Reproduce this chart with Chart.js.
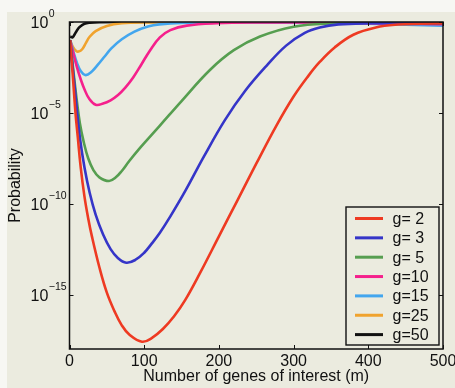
<!DOCTYPE html>
<html><head><meta charset="utf-8">
<script src="https://cdn.jsdelivr.net/npm/chart.js@4"></script>
<style>html,body{margin:0;padding:0;background:#f7f7f3;} #c{display:block;}</style>
</head><body>
<canvas id="c" width="455" height="388" style="width:455px;height:388px"></canvas>
<script>
// ---- data (x = m, values = log10 of probability) ----
const seriesLabels = ['g= 2','g= 3','g= 5','g=10','g=15','g=25','g=50'];
const seriesColors = ['#ee3a22','#3535c8','#569e50','#f5208c','#43a6ee','#f0a32e','#111111'];
const xTickValues = [0,100,200,300,400,500];
const yTickExponents = [0,-5,-10,-15];

const m_g2   = [1,3,5,8,11,15,20,25,30,40,50,60,70,80,97,110,125,140,155,175,200,225,250,277,300,320,335,355,380,410,440,470,500];
const logP_g2= [-1.0,-2.2,-3.3,-5.0,-6.3,-8.0,-9.6,-10.8,-11.8,-13.5,-14.9,-15.9,-16.7,-17.2,-17.6,-17.4,-16.9,-16.2,-15.3,-13.8,-11.8,-9.8,-7.8,-5.7,-4.1,-2.95,-2.2,-1.4,-0.7,-0.3,-0.14,-0.1,-0.08];

const m_g3   = [1,4,7,10,14,20,27,35,45,55,65,76,88,100,110,121,135,155,180,208,235,264,290,315,335,360,400,450,500];
const logP_g3= [-1.0,-2.4,-3.6,-4.9,-6.4,-8.0,-9.4,-10.6,-11.7,-12.5,-13.0,-13.25,-13.1,-12.7,-12.2,-11.6,-10.7,-9.3,-7.4,-5.4,-3.8,-2.4,-1.3,-0.6,-0.3,-0.13,-0.07,-0.07,-0.1];

const m_g5   = [1,3,6,10,14,19,25,32,40,53,62,70,80,95,121,150,188,220,255,300,350,420,500];
const logP_g5= [-1.0,-1.8,-3.0,-4.4,-5.6,-6.6,-7.5,-8.15,-8.55,-8.75,-8.55,-8.2,-7.65,-6.9,-5.7,-4.35,-2.64,-1.55,-0.8,-0.26,-0.08,-0.04,-0.06];

const m_g10   = [1,5,10,15,20,26,35,45,55,65,75,85,96,108,121,135,157,197,250,350,500];
const logP_g10= [-1.05,-1.7,-2.5,-3.15,-3.7,-4.2,-4.55,-4.49,-4.31,-4.02,-3.6,-3.07,-2.35,-1.55,-0.85,-0.45,-0.2,-0.07,-0.03,-0.04,-0.12];

const m_g15   = [1,5,10,15,21,28,38,47,56,70,87,105,120,150,250,400,500];
const logP_g15= [-1.0,-1.6,-2.25,-2.7,-2.92,-2.8,-2.35,-1.9,-1.45,-0.95,-0.53,-0.25,-0.13,-0.05,-0.03,-0.1,-0.2];

const m_g25   = [1,5,9,12,17,22,27,35,50,70,100,200,500];
const logP_g25= [-1.05,-1.4,-1.6,-1.63,-1.5,-1.15,-0.81,-0.5,-0.22,-0.07,-0.02,-0.01,-0.05];

const m_g50   = [1,4,8,11,14,20,27,40,100,500];
const logP_g50= [-0.8,-0.85,-0.6,-0.4,-0.26,-0.1,-0.04,-0.01,0,0];

const seriesM = [m_g2,m_g3,m_g5,m_g10,m_g15,m_g25,m_g50];
const seriesLogP = [logP_g2,logP_g3,logP_g5,logP_g10,logP_g15,logP_g25,logP_g50];

const FONT = 'Liberation Sans, Arial, Helvetica, sans-serif';
const INK = '#111111';

const datasets = seriesLabels.map((lab,i)=>({
  label: lab,
  data: seriesM[i].map((m,k)=>({x:m, y:Math.pow(10, seriesLogP[i][k])})),
  borderColor: seriesColors[i],
  backgroundColor: seriesColors[i],
  borderWidth: 2.6,
  pointRadius: 0,
  fill: false,
  tension: 0.4
}));

const decor = {
  id: 'decor',
  beforeDraw(chart){
    const ctx = chart.ctx;
    ctx.save();
    ctx.fillStyle = '#f7f7f3';
    ctx.fillRect(0,0,chart.width,chart.height);
    ctx.fillStyle = '#ebebdf';
    ctx.fillRect(7,12,chart.width-7,chart.height-12);
    ctx.restore();
  },
  afterDatasetsDraw(chart){
    const ctx = chart.ctx, a = chart.chartArea;
    const xs = chart.scales.x, ys = chart.scales.y;
    ctx.save();
    // frame
    ctx.strokeStyle = INK; ctx.lineWidth = 1.5;
    ctx.strokeRect(a.left, a.top, a.right-a.left, a.bottom-a.top);
    // inward ticks
    ctx.lineWidth = 1;
    const TL = 4;
    xTickValues.forEach(v=>{
      const px = Math.round(xs.getPixelForValue(v))+0.5;
      ctx.beginPath();
      ctx.moveTo(px,a.bottom); ctx.lineTo(px,a.bottom-TL);
      ctx.moveTo(px,a.top); ctx.lineTo(px,a.top+TL);
      ctx.stroke();
    });
    yTickExponents.forEach(e=>{
      const py = Math.round(ys.getPixelForValue(Math.pow(10,e)))+0.5;
      ctx.beginPath();
      ctx.moveTo(a.left,py); ctx.lineTo(a.left+TL,py);
      ctx.moveTo(a.right,py); ctx.lineTo(a.right-TL,py);
      ctx.stroke();
    });
    // y tick labels 10^e
    ctx.fillStyle = INK;
    ctx.textAlign = 'left'; ctx.textBaseline = 'middle';
    yTickExponents.forEach(e=>{
      const py = ys.getPixelForValue(Math.pow(10,e));
      ctx.font = '16px ' + FONT;
      ctx.fillText('10', 30.5, py+2);
      const w = ctx.measureText('10').width;
      ctx.font = '10.5px ' + FONT;
      ctx.fillText(e===0 ? '0' : '\u2212' + Math.abs(e), 30.5+w+0.5, py-7.8);
    });
    // legend
    const bx=346, by=207, bw=93, bh=138;
    ctx.lineWidth = 1.4; ctx.strokeStyle = INK;
    ctx.strokeRect(bx,by,bw,bh);
    chart.data.datasets.forEach((d,i)=>{
      const yc = 218.5 + i*19.35;
      ctx.strokeStyle = d.borderColor; ctx.lineWidth = 3;
      ctx.beginPath(); ctx.moveTo(355,yc); ctx.lineTo(383,yc); ctx.stroke();
      ctx.fillStyle = INK; ctx.font = '16px ' + FONT;
      ctx.textAlign='left'; ctx.textBaseline='middle';
      ctx.fillText(d.label, 392.5, yc+1);
    });
    ctx.restore();
  }
};

new Chart(document.getElementById('c'), {
  type: 'line',
  data: { datasets },
  options: {
    responsive: false,
    animation: false,
    devicePixelRatio: 1,
    layout: { padding: { left: 0, right: 12, top: 22, bottom: 0 } },
    plugins: { legend: { display: false }, tooltip: { enabled: false } },
    scales: {
      x: {
        type: 'linear', min: 0, max: 500,
        afterBuildTicks: s => { s.ticks = xTickValues.map(v=>({value:v})); },
        afterFit: s => { s.height = 39; s.paddingLeft = 0; s.paddingRight = 0; },
        ticks: { font: { size: 16, family: FONT }, color: INK, padding: 3, maxRotation: 0, autoSkip: false },
        grid: { display: false, drawTicks: false, tickLength: 0 },
        border: { display: false },
        title: { display: true, text: 'Number of genes of interest (m)', color: INK,
                 font: { size: 16, family: FONT }, padding: { top: 0, bottom: 2 } }
      },
      y: {
        type: 'logarithmic', min: 1e-18, max: 1,
        afterBuildTicks: s => { s.ticks = yTickExponents.map(e=>({value:Math.pow(10,e)})); },
        afterFit: s => { s.width = 69.5; s.paddingTop = 0; s.paddingBottom = 0; },
        ticks: { display: false },
        grid: { display: false, drawTicks: false, tickLength: 0 },
        border: { display: false },
        title: { display: true, text: 'Probability', color: INK,
                 font: { size: 16, family: FONT }, padding: { top: 6, bottom: 0 } }
      }
    }
  },
  plugins: [decor]
});
</script>
</body></html>
